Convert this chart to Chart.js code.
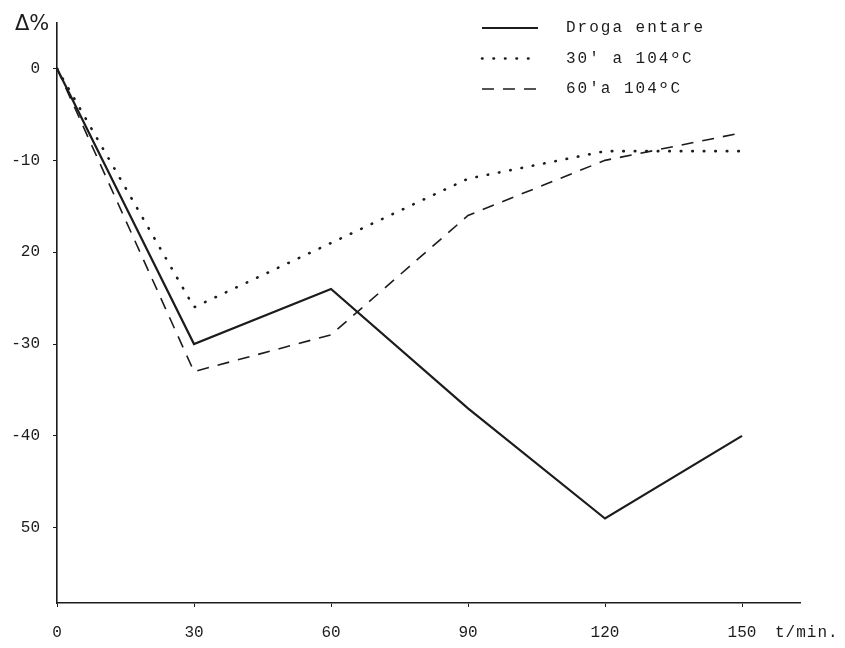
<!DOCTYPE html>
<html>
<head>
<meta charset="utf-8">
<script src="https://cdn.jsdelivr.net/npm/chart.js@4.4.1/dist/chart.umd.min.js"></script>
<style>
    html, body { margin: 0; padding: 0; background: #fff; }
    #wrap { width: 845px; height: 648px; }
</style>
</head>
<body>
<div id="wrap"><canvas id="grafico"></canvas></div>
<script>
// dados
const tempos = [0, 30, 60, 90, 120, 150];
const drogaEntera = [0, -30, -24, -37, -49, -40];
const trintaMin = [0, -26, -19, -12, -9, -9];
const sessentaMin = [0, -33, -29, -16, -10, -7];
const yTicks = [0, -10, -20, -30, -40, -50];
const yTickLabels = ['0', '-10', '20', '-30', '-40', '50'];
const nomes = ['Droga entare', "30' a 104ºC", "60'a 104ºC"];

const TINTA = '#1c1c1c';
const FONTE = '"Liberation Mono", "DejaVu Sans Mono", monospace';

const serie = (label, data, dash, width, cap) => ({
    label: label,
    data: tempos.map((t, i) => ({ x: t, y: data[i] })),
    borderColor: TINTA,
    borderWidth: width,
    borderDash: dash,
    borderCapStyle: cap,
    pointRadius: 0,
    tension: 0,
    fill: false
});

// legenda e textos soltos (Δ%, t/min.)
const extras = {
    id: 'extras',
    afterDraw(chart) {
        const ctx = chart.ctx;
        ctx.save();
        ctx.fillStyle = TINTA;
        ctx.textBaseline = 'middle';

        ctx.font = '21px "DejaVu Sans"';
        ctx.fillText('Δ%', 15, 25);

        ctx.font = '16px ' + FONTE;
        ctx.letterSpacing = '1px';
        ctx.fillText('t/min.', chart.scales.x.getPixelForValue(150) + 33, 633);

        ctx.letterSpacing = '2px';
        chart.data.datasets.forEach((ds, i) => {
            const y = 28 + i * 30.5;
            ctx.beginPath();
            ctx.strokeStyle = ds.borderColor;
            ctx.lineWidth = ds.borderWidth;
            ctx.lineCap = ds.borderCapStyle;
            ctx.setLineDash(ds.borderDash);
            ctx.moveTo(482, y);
            ctx.lineTo(538, y);
            ctx.stroke();
            ctx.fillText(ds.label, 566, y);
        });
        ctx.restore();
    }
};

new Chart(document.getElementById('grafico').getContext('2d'), {
    type: 'line',
    data: {
        datasets: [
            serie(nomes[0], drogaEntera, [], 2.2, 'butt'),
            serie(nomes[1], trintaMin, [0.5, 11], 2.6, 'round'),
            serie(nomes[2], sessentaMin, [12, 9], 1.6, 'butt')
        ]
    },
    options: {
        responsive: true,
        maintainAspectRatio: false,
        animation: false,
        layout: { padding: { top: 22, right: 45, left: 0, bottom: 0 } },
        plugins: { legend: { display: false }, tooltip: { enabled: false } },
        scales: {
            x: {
                type: 'linear',
                min: 0,
                max: 162.7,
                afterBuildTicks: s => { s.ticks = tempos.map(v => ({ value: v })); },
                afterFit: s => { s.height = 45; },
                ticks: { color: TINTA, font: { family: FONTE, size: 16 }, padding: 16, maxRotation: 0 },
                grid: { drawOnChartArea: false, tickLength: 4, color: TINTA },
                border: { display: true, color: TINTA, width: 1.6 }
            },
            y: {
                min: -58.2,
                max: 5,
                afterBuildTicks: s => { s.ticks = yTicks.map(v => ({ value: v })); },
                afterFit: s => { s.width = 57; },
                ticks: {
                    color: TINTA,
                    font: { family: FONTE, size: 16 },
                    padding: 13,
                    callback: v => yTickLabels[yTicks.indexOf(v)]
                },
                grid: { drawOnChartArea: false, tickLength: 4, color: TINTA },
                border: { display: true, color: TINTA, width: 1.6 }
            }
        }
    },
    plugins: [extras]
});
</script>
</body>
</html>
